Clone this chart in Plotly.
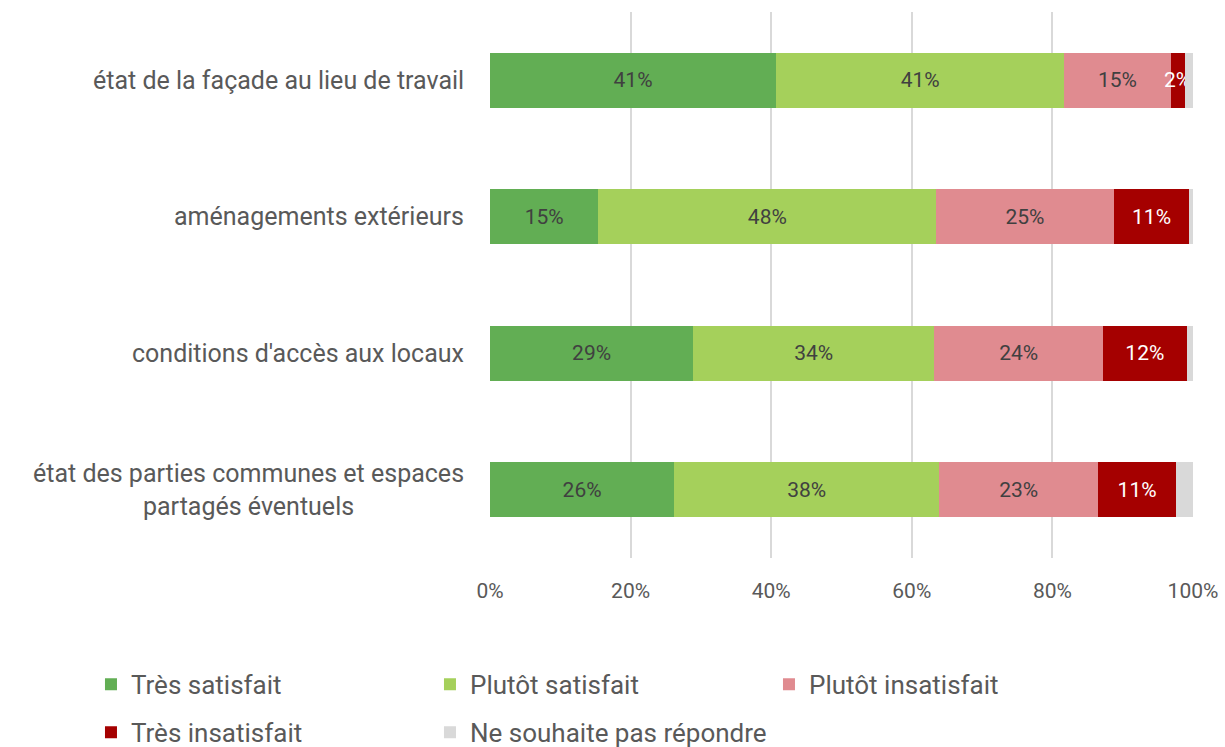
import plotly.graph_objects as go

categories = [
    "état de la façade au lieu de travail",
    "aménagements extérieurs",
    "conditions d'accès aux locaux",
    "état des parties communes et espaces<br>partagés éventuels",
]
series_names = ["Très satisfait", "Plutôt satisfait", "Plutôt insatisfait",
                "Très insatisfait", "Ne souhaite pas répondre"]
tres_satisfait = [40.7, 15.4, 28.9, 26.2]
plutot_satisfait = [41.0, 48.1, 34.3, 37.7]
plutot_insatisfait = [15.1, 25.2, 24.0, 22.6]
tres_insatisfait = [2.0, 10.8, 11.9, 11.1]
ne_souhaite_pas = [1.2, 0.5, 0.9, 2.4]

values = [tres_satisfait, plutot_satisfait, plutot_insatisfait, tres_insatisfait, ne_souhaite_pas]
colors = ["#62AE54", "#A5D05B", "#E08B90", "#A50000", "#D9D9D9"]
text_colors = ["#404040", "#404040", "#404040", "#FFFFFF", "#404040"]
show_text = [True, True, True, True, False]
legend_ids = ["legend", "legend", "legend", "legend2", "legend2"]

FONT = "Roboto"
fig = go.Figure()
for name, vals, col, tcol, st, lg in zip(series_names, values, colors, text_colors, show_text, legend_ids):
    fig.add_trace(go.Bar(
        y=categories, x=vals, name=name, orientation="h",
        marker=dict(color=col, line=dict(width=0)),
        text=[f"{round(v)}%" for v in vals] if st else None,
        textposition="inside" if st else "none",
        insidetextanchor="middle",
        constraintext="none",
        textangle=0,
        textfont=dict(family=FONT, size=21, color=tcol),
        width=0.4,
        legend=lg,
        hoverinfo="x+name",
    ))

for cat in categories:
    fig.add_annotation(
        x=0, y=cat, xref="paper", yref="y", text=cat, showarrow=False,
        xanchor="right", yanchor="middle", align="center", xshift=-24,
        font=dict(family=FONT, size=25, color="#595959"),
    )

leg_common = dict(orientation="h", xref="paper", yref="paper",
                  x=-0.5676, xanchor="left", yanchor="top",
                  entrywidth=294, entrywidthmode="pixels",
                  font=dict(family=FONT, size=26, color="#595959"),
                  traceorder="normal", itemwidth=30, bgcolor="rgba(0,0,0,0)")

fig.update_layout(
    barmode="stack",
    width=1225, height=747,
    margin=dict(l=490, r=32, t=12, b=189, autoexpand=False),
    paper_bgcolor="white", plot_bgcolor="white",
    font=dict(family=FONT, color="#595959"),
    xaxis=dict(range=[0, 100], tickvals=[0, 20, 40, 60, 80, 100],
               ticktext=["0%", "20%", "40%", "60%", "80%", "100%"],
               showgrid=True, gridcolor="#D9D9D9", gridwidth=2,
               zeroline=False, showline=False,
               tickfont=dict(family=FONT, size=21, color="#595959"),
               ticklen=0, ticks="", automargin=False, ticklabelstandoff=18),
    yaxis=dict(autorange="reversed", showticklabels=False, showgrid=False,
               zeroline=False, showline=False, range=[3.5, -0.5], automargin=False),
    legend=dict(y=-0.1883, **leg_common),
    legend2=dict(y=-0.2763, **leg_common),
    showlegend=True,
)

fig.write_html("out.html", config={"displayModeBar": False},
               post_script="document.body.style.margin='0';document.body.style.overflow='hidden';")
